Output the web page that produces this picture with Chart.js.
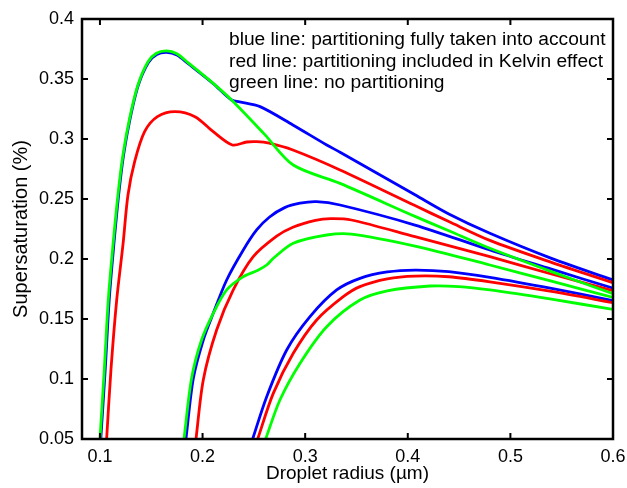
<!DOCTYPE html>
<html>
<head>
<meta charset="utf-8">
<script src="https://cdn.jsdelivr.net/npm/chart.js@4"></script>
<style>
  html, body { margin: 0; padding: 0; background: #fff; }
  #wrap { width: 627px; height: 488px; }
</style>
</head>
<body>
<div id="wrap"><canvas id="koehlerChart"></canvas></div>
<script>
// tick labels
const xTickValues = [0.1, 0.2, 0.3, 0.4, 0.5, 0.6];
const yTickValues = [0.05, 0.1, 0.15, 0.2, 0.25, 0.3, 0.35, 0.4];

// smallest droplet
const blue1X = [0.1008, 0.1051, 0.109, 0.1135, 0.1182, 0.123, 0.1294, 0.1374, 0.1472, 0.1553, 0.165, 0.175, 0.186, 0.2104, 0.2283, 0.236, 0.256, 0.288, 0.321, 0.334, 0.407, 0.44, 0.48, 0.54, 0.6];
const blue1Y = [0.05, 0.1075, 0.1658, 0.2117, 0.2533, 0.2867, 0.3172, 0.345, 0.3638, 0.3705, 0.3722, 0.37, 0.3628, 0.3462, 0.3325, 0.331, 0.327, 0.3117, 0.295, 0.289, 0.2535, 0.2375, 0.2214, 0.2005, 0.1825];
const red1X = [0.1065, 0.1107, 0.1163, 0.1224, 0.1273, 0.1338, 0.1435, 0.156, 0.1731, 0.1926, 0.2104, 0.229, 0.243, 0.2527, 0.265, 0.288, 0.334, 0.407, 0.44, 0.48, 0.54, 0.6];
const red1Y = [0.05, 0.1075, 0.1658, 0.2117, 0.2533, 0.2811, 0.3061, 0.3186, 0.3228, 0.3186, 0.3061, 0.295, 0.2975, 0.2978, 0.2965, 0.2908, 0.2742, 0.2445, 0.2312, 0.2155, 0.1972, 0.1803];
const green1X = [0.1, 0.1042, 0.1081, 0.1127, 0.1175, 0.1224, 0.1289, 0.137, 0.1468, 0.155, 0.165, 0.175, 0.186, 0.2104, 0.2283, 0.26, 0.2884, 0.334, 0.407, 0.44, 0.48, 0.54, 0.6];
const green1Y = [0.05, 0.1075, 0.1658, 0.2117, 0.2533, 0.2867, 0.3172, 0.345, 0.3644, 0.3715, 0.3735, 0.371, 0.3635, 0.3464, 0.3325, 0.3043, 0.2783, 0.263, 0.2355, 0.2235, 0.2089, 0.1895, 0.171];

// middle droplet
const blue2X = [0.1838, 0.191, 0.2007, 0.2104, 0.2235, 0.2397, 0.2527, 0.265, 0.28, 0.295, 0.311, 0.334, 0.407, 0.48, 0.54, 0.6];
const blue2Y = [0.05, 0.1006, 0.1325, 0.1547, 0.1825, 0.2075, 0.2242, 0.2348, 0.2428, 0.2465, 0.2478, 0.245, 0.2283, 0.2075, 0.1915, 0.1756];
const red2X = [0.1936, 0.2007, 0.2137, 0.2299, 0.2494, 0.2722, 0.288, 0.31, 0.325, 0.345, 0.407, 0.48, 0.54, 0.6];
const red2Y = [0.05, 0.0992, 0.1408, 0.1742, 0.2019, 0.219, 0.2265, 0.2322, 0.2336, 0.2325, 0.2186, 0.2019, 0.1875, 0.1736];
const green2X = [0.1819, 0.1893, 0.199, 0.2104, 0.2235, 0.2397, 0.2535, 0.2625, 0.269, 0.2884, 0.321, 0.345, 0.407, 0.48, 0.54, 0.6];
const green2Y = [0.05, 0.1006, 0.1325, 0.1547, 0.1742, 0.1853, 0.1905, 0.195, 0.2006, 0.2131, 0.22, 0.2208, 0.2108, 0.195, 0.1815, 0.168];

// largest droplet
const blue3X = [0.2488, 0.2625, 0.282, 0.3047, 0.3307, 0.3534, 0.38, 0.407, 0.44, 0.48, 0.54, 0.6];
const blue3Y = [0.05, 0.0853, 0.1242, 0.152, 0.1742, 0.1839, 0.1892, 0.1908, 0.1895, 0.1847, 0.1755, 0.1653];
const red3X = [0.2537, 0.2689, 0.2884, 0.3112, 0.3371, 0.3534, 0.38, 0.407, 0.44, 0.48, 0.54, 0.6];
const red3Y = [0.05, 0.088, 0.1214, 0.1492, 0.1686, 0.177, 0.1835, 0.1858, 0.1852, 0.181, 0.173, 0.1636];
const green3X = [0.2615, 0.2754, 0.2949, 0.321, 0.3534, 0.38, 0.4216, 0.45, 0.48, 0.54, 0.6];
const green3Y = [0.05, 0.0825, 0.113, 0.1436, 0.1658, 0.1735, 0.1775, 0.177, 0.1742, 0.1665, 0.158];

const notes = [
  "blue line: partitioning fully taken into account",
  "red line: partitioning included in Kelvin effect",
  "green line: no partitioning",
];

const FONT = "'Liberation Sans', Arial, Helvetica, sans-serif";

const toPoints = (xs, ys) => xs.map((x, i) => ({ x: x, y: ys[i] }));

const makeLine = (label, xs, ys, color) => ({
  label: label,
  data: toPoints(xs, ys),
  borderColor: color,
  backgroundColor: color,
  borderWidth: 2.8,
  pointRadius: 0,
  showLine: true,
  fill: false,
  tension: 0.3,
});

// matlab style frame with inward ticks + text block
const framePlugin = {
  id: "frame",
  afterDatasetsDraw(chart) {
    const { ctx, chartArea, scales } = chart;
    const { left, right, top, bottom } = chartArea;
    const tick = 6;
    ctx.save();
    ctx.strokeStyle = "#000";
    ctx.lineWidth = 2;
    ctx.beginPath();
    xTickValues.forEach((v) => {
      const px = scales.x.getPixelForValue(v);
      ctx.moveTo(px, bottom);
      ctx.lineTo(px, bottom - tick);
      ctx.moveTo(px, top);
      ctx.lineTo(px, top + tick);
    });
    yTickValues.forEach((v) => {
      const py = scales.y.getPixelForValue(v);
      ctx.moveTo(left, py);
      ctx.lineTo(left + tick, py);
      ctx.moveTo(right, py);
      ctx.lineTo(right - tick, py);
    });
    ctx.stroke();
    ctx.lineWidth = 2.5;
    ctx.strokeRect(left, top, right - left, bottom - top);

    ctx.fillStyle = "#000";
    ctx.font = "19.2px " + FONT;
    ctx.textAlign = "left";
    ctx.textBaseline = "alphabetic";
    notes.forEach((t, i) => {
      ctx.fillText(t, left + 147, top + 26 + i * 21.7);
    });
    ctx.restore();
  },
};

const ctx = document.getElementById("koehlerChart").getContext("2d");
const koehlerChart = new Chart(ctx, {
  type: "scatter",
  data: {
    datasets: [
      makeLine("green 1", green1X, green1Y, "#00ff00"),
      makeLine("green 2", green2X, green2Y, "#00ff00"),
      makeLine("green 3", green3X, green3Y, "#00ff00"),
      makeLine("red 1", red1X, red1Y, "#ff0000"),
      makeLine("red 2", red2X, red2Y, "#ff0000"),
      makeLine("red 3", red3X, red3Y, "#ff0000"),
      makeLine("blue 1", blue1X, blue1Y, "#0000ff"),
      makeLine("blue 2", blue2X, blue2Y, "#0000ff"),
      makeLine("blue 3", blue3X, blue3Y, "#0000ff"),
    ],
  },
  options: {
    responsive: true,
    maintainAspectRatio: false,
    animation: false,
    layout: { padding: { top: 19, right: 14, left: 0, bottom: 0 } },
    plugins: {
      legend: { display: false },
      tooltip: { enabled: false },
    },
    scales: {
      x: {
        type: "linear",
        min: 0.0825,
        max: 0.6,
        grid: { display: false, drawTicks: false },
        border: { display: false },
        afterBuildTicks: (scale) => {
          scale.ticks = xTickValues.map((v) => ({ value: v }));
        },
        afterFit: (scale) => {
          scale.height = 49;
          scale.paddingLeft = 0;
          scale.paddingRight = 0;
        },
        ticks: {
          padding: 7,
          color: "#000",
          font: { family: FONT, size: 18 },
          callback: (v) => String(v),
        },
        title: {
          display: true,
          text: "Droplet radius (\u00b5m)",
          color: "#000",
          font: { family: FONT, size: 19 },
          padding: { top: 0, bottom: 3 },
        },
      },
      y: {
        type: "linear",
        min: 0.05,
        max: 0.4,
        grid: { display: false, drawTicks: false },
        border: { display: false },
        afterBuildTicks: (scale) => {
          scale.ticks = yTickValues.map((v) => ({ value: v }));
        },
        afterFit: (scale) => {
          scale.width = 82;
          scale.paddingTop = 0;
          scale.paddingBottom = 0;
        },
        ticks: {
          padding: 8,
          color: "#000",
          font: { family: FONT, size: 18 },
          callback: (v) => String(v),
        },
        title: {
          display: true,
          text: "Supersaturation (%)",
          color: "#000",
          font: { family: FONT, size: 20 },
          padding: { top: 9, bottom: 0 },
        },
      },
    },
  },
  plugins: [framePlugin],
});
</script>
</body>
</html>
